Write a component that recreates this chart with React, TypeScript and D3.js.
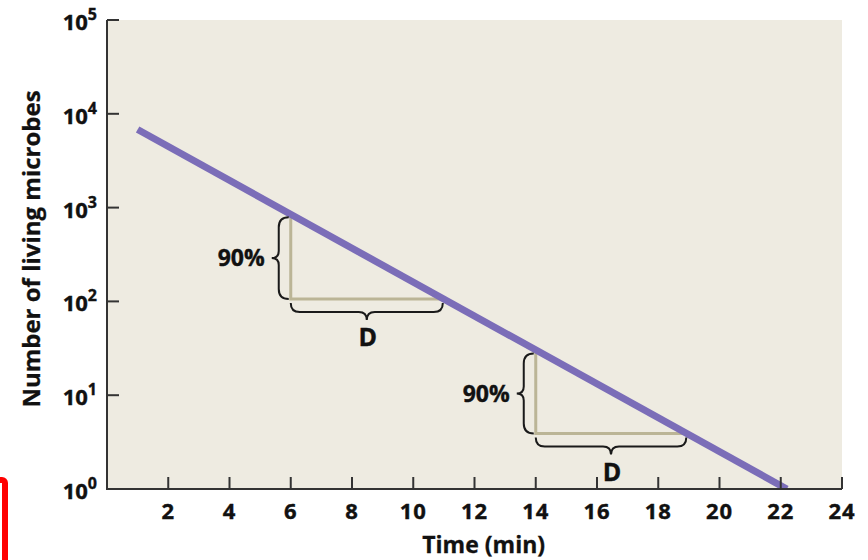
import React, { useEffect, useRef } from 'react';
import * as d3 from 'd3';

// data
const xTicks = [2, 4, 6, 8, 10, 12, 14, 16, 18, 20, 22, 24];
const yExponents = [0, 1, 2, 3, 4, 5];
const lineTimes = [1, 22.2];
const lineCounts = [6800, 1];
// two "decimal reduction" triangles: start time, end time, top count, bottom count
const triStart = [6, 14];
const triEnd = [10.9, 18.85];
const triTop = [850, 30];
const triBottom = [106, 3.9];

const W = 868;
const H = 560;
const FONT = '"Open Sans", "Noto Sans", sans-serif';

// curly brace from p1 to p2, bulging to the right of the travel direction
function brace(x1: number, y1: number, x2: number, y2: number, h1: number, h2: number) {
  const len = Math.hypot(x2 - x1, y2 - y1);
  const ux = (x2 - x1) / len;
  const uy = (y2 - y1) / len;
  const nx = -uy;
  const ny = ux;
  const p = (s: number, n: number) => `${x1 + ux * s + nx * n},${y1 + uy * s + ny * n}`;
  const m = len / 2;
  const r = h1;
  return [
    `M${p(0, 0)}`,
    `Q${p(0, h1)} ${p(r, h1)}`,
    `L${p(m - h2, h1)}`,
    `Q${p(m, h1)} ${p(m, h1 + h2)}`,
    `Q${p(m, h1)} ${p(m + h2, h1)}`,
    `L${p(len - r, h1)}`,
    `Q${p(len, h1)} ${p(len, 0)}`,
  ].join(' ');
}

function Chart() {
  const ref = useRef<SVGSVGElement>(null);

  useEffect(() => {
    const svg = d3.select(ref.current);
    svg.selectAll('*').remove();

    const margin = { left: 107, right: 26, top: 20, bottom: 71 };
    const x = d3.scaleLinear().domain([0, 24]).range([margin.left, W - margin.right]);
    const y = d3.scaleLog().domain([1, 1e5]).range([H - margin.bottom, margin.top]);

    // plot background
    svg.append('rect')
      .attr('x', x(0)).attr('y', y(1e5))
      .attr('width', x(24) - x(0)).attr('height', y(1) - y(1e5))
      .attr('fill', '#EEEBE1');

    svg.append('clipPath').attr('id', 'plotclip')
      .append('rect')
      .attr('x', x(0)).attr('y', y(1e5))
      .attr('width', x(24) - x(0)).attr('height', y(1) - y(1e5));

    // triangles
    const tri = svg.append('g').attr('fill', 'none').attr('stroke', '#BBB596').attr('stroke-width', 3);
    triStart.forEach((t0, i) => {
      tri.append('path')
        .attr('d', `M${x(t0)},${y(triTop[i])} V${y(triBottom[i])} H${x(triEnd[i])}`);
    });

    // main line, clipped at the bottom axis
    const line = d3.line<number>()
      .x((_, i) => x(lineTimes[i]))
      .y(d => y(d));
    svg.append('path')
      .datum(lineCounts)
      .attr('clip-path', 'url(#plotclip)')
      .attr('d', line)
      .attr('fill', 'none')
      .attr('stroke', '#7B6DB8')
      .attr('stroke-width', 7);

    // braces + labels
    const br = svg.append('g').attr('fill', 'none').attr('stroke', '#1a1a1a').attr('stroke-width', 2);
    const labels = svg.append('g')
      .attr('font-family', FONT).attr('font-weight', 700).attr('fill', '#111')
      .attr('stroke', '#111').attr('stroke-width', 0.4);
    triStart.forEach((t0, i) => {
      const xv = x(t0) - 2;
      const yt = y(triTop[i]) + 3;
      const yb = y(triBottom[i]);
      // top -> bottom: bulges to the left
      br.append('path').attr('d', brace(xv, yt, xv, yb, 10, 7));
      labels.append('text')
        .attr('x', xv - 24).attr('y', (yt + yb) / 2 + 8)
        .attr('text-anchor', 'end').attr('font-size', 23)
        .text('90%');
      const yh = y(triBottom[i]) + 4;
      const xe = x(triEnd[i]) + 2;
      // left -> right: bulges downward
      br.append('path').attr('d', brace(x(t0), yh, xe, yh, 9, 8));
      labels.append('text')
        .attr('x', (x(t0) + xe) / 2 + 1).attr('y', yh + 17 + 26)
        .attr('text-anchor', 'middle').attr('font-size', 25)
        .text('D');
    });

    // axes
    const axis = svg.append('g').attr('stroke', '#333').attr('stroke-width', 2).attr('fill', 'none');
    axis.append('path')
      .attr('d', `M${x(0)},${y(1e5)} V${y(1)} H${x(24)}`);
    xTicks.forEach(t => {
      axis.append('line')
        .attr('x1', x(t)).attr('x2', x(t))
        .attr('y1', y(1)).attr('y2', y(1) - 12);
    });
    yExponents.forEach(e => {
      if (e === 0) return;
      axis.append('line')
        .attr('x1', x(0)).attr('x2', x(0) + 12)
        .attr('y1', y(10 ** e)).attr('y2', y(10 ** e));
    });

    const tickText = svg.append('g')
      .attr('font-family', FONT).attr('font-weight', 700).attr('fill', '#111')
      .attr('stroke', '#111').attr('stroke-width', 0.4);
    xTicks.forEach(t => {
      tickText.append('text')
        .attr('x', x(t)).attr('y', y(1) + 30)
        .attr('text-anchor', 'middle').attr('font-size', 22).attr('letter-spacing', 1)
        .text(t);
    });
    yExponents.forEach(e => {
      const txt = tickText.append('text')
        .attr('x', 97).attr('y', y(10 ** e) + 10)
        .attr('text-anchor', 'end').attr('font-size', 22);
      txt.append('tspan').text('10');
      txt.append('tspan').attr('dy', -10).attr('font-size', 16).text(e);
    });

    // axis titles
    svg.append('text')
      .attr('x', x(12.3)).attr('y', 553)
      .attr('text-anchor', 'middle')
      .attr('font-family', FONT).attr('font-weight', 700).attr('font-size', 23).attr('fill', '#111')
      .attr('stroke', '#111').attr('stroke-width', 0.3)
      .text('Time (min)');
    svg.append('text')
      .attr('transform', `translate(40, 249) rotate(-90)`)
      .attr('text-anchor', 'middle')
      .attr('font-family', FONT).attr('font-weight', 700).attr('font-size', 24).attr('fill', '#111')
      .attr('stroke', '#111').attr('stroke-width', 0.3)
      .text('Number of living microbes');

    // red frame edge at bottom left
    svg.append('rect')
      .attr('x', -60).attr('y', 480).attr('width', 65).attr('height', 120).attr('rx', 3)
      .attr('fill', 'none').attr('stroke', '#FF0000').attr('stroke-width', 6);
  }, []);

  return <svg ref={ref} width={W} height={H} style={{ display: 'block' }} />;
}

export default function App() {
  return (
    <div style={{ position: 'absolute', left: 0, top: 0, width: W, height: H, background: '#fff' }}>
      <Chart />
    </div>
  );
}
